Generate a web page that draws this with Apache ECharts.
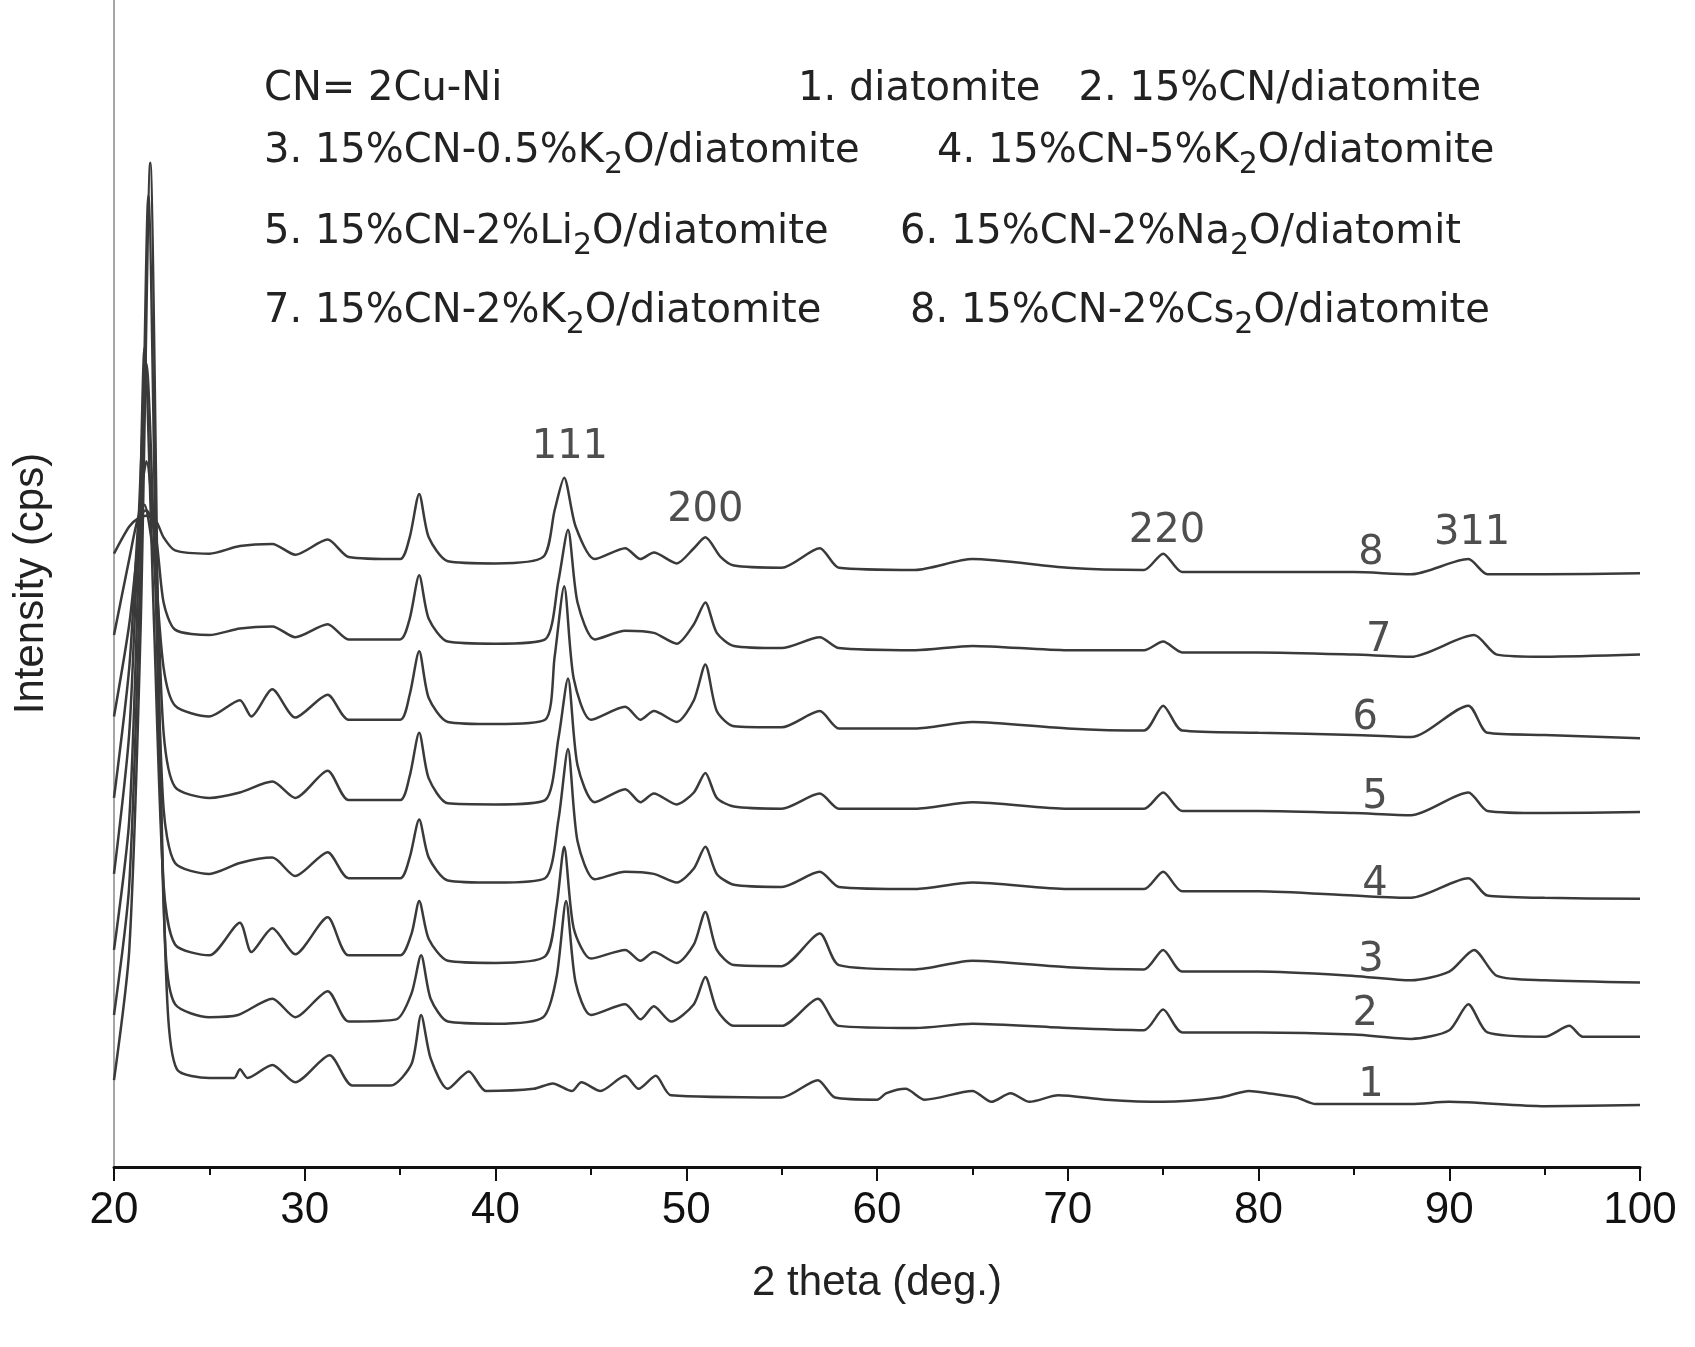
<!DOCTYPE html>
<html>
<head>
    <meta charset="UTF-8">
    <title>XRD</title>
    <script src="https://cdn.jsdelivr.net/npm/echarts@6/dist/echarts.min.js"></script>
</head>
<body style="margin:0;background:#fff">
<div id="main" style="width:1695px;height:1347px;"></div>
<script type="text/javascript">
    // 2 theta / intensity pairs (offset curves, arbitrary units)
    var s1 = [[20,80],[20.8,200],[21.4,500],[21.9,925],[22.4,400],[22.8,150],[23.3,90],[25,82],[26.3,82],[26.6,90],[27,82],[28.3,94],[29.5,78],[31.3,103],[32.5,75],[34.5,75],[35.6,95],[36.1,140],[36.6,100],[37.5,72],[38.6,88],[39.5,70],[42,72],[43,77],[44,70],[44.5,78],[45.5,70],[46.8,84],[47.5,72],[48.4,84],[49.2,66],[55,64],[56.9,80],[57.8,64],[60,62],[60.5,68],[61.5,72],[62.5,62],[65,70],[66,60],[67,68],[68,60],[69.5,66],[72,62],[75,60],[78,64],[79.5,70],[80.5,68],[82,64],[83,58],[88,58],[90,60],[95,56],[100,57]];
    var s2 = [[20,140],[20.8,260],[21.4,560],[21.8,895],[22.3,450],[22.7,200],[23.2,150],[25,138],[26.5,140],[28.3,155],[29.5,138],[31.2,162],[32.3,134],[34.8,136],[35.6,160],[36.1,195],[36.6,155],[37.5,134],[40,132],[42.5,138],[43.2,175],[43.7,245],[44.2,170],[45,140],[46.8,150],[47.6,136],[48.3,148],[49.2,134],[50.4,150],[51,175],[51.6,145],[52.5,130],[55,130],[56.9,155],[58,130],[62,128],[65,132],[70,128],[74,126],[75,145],[76,124],[80,124],[85,122],[88,118],[90,126],[91,150],[92,124],[95,120],[96.3,130],[97,120],[100,120]];
    var s3 = [[20,200],[20.8,320],[21.3,560],[21.6,755],[22.1,500],[22.6,260],[23.2,205],[25,195],[26.6,225],[27.2,198],[28.3,220],[29.5,196],[31.2,230],[32.3,195],[35,195],[35.6,215],[36,245],[36.5,210],[37.5,190],[40,188],[42.6,194],[43.2,240],[43.6,295],[44.1,220],[45,192],[46.8,200],[47.6,190],[48.3,198],[49.5,188],[50.4,205],[51,235],[51.6,200],[52.5,186],[55,185],[57,215],[58,186],[62,182],[65,190],[70,184],[74,182],[75,200],[76,180],[80,180],[85,176],[88,172],[90,180],[91.3,200],[92.5,176],[95,172],[100,170]];
    var s4 = [[20,270],[20.8,400],[21.3,600],[21.7,740],[22.2,520],[22.6,330],[23.2,280],[25,270],[26.6,280],[28.3,285],[29.5,268],[31.2,290],[32.3,266],[35,266],[35.5,285],[36,320],[36.5,285],[37.5,264],[40,262],[42.6,266],[43.3,320],[43.8,385],[44.3,300],[45.2,265],[46.8,272],[48.3,270],[49.5,262],[50.4,275],[51,295],[51.6,270],[52.5,260],[55,258],[57,272],[58,258],[62,256],[65,262],[70,256],[74,256],[75,272],[76,254],[80,254],[85,250],[88,248],[91,266],[92,250],[95,248],[100,247]];
    var s5 = [[20,340],[20.8,460],[21.3,600],[21.7,650],[22.2,560],[22.6,400],[23.2,350],[25,340],[26.6,345],[28.3,355],[29.5,340],[31.2,365],[32.3,338],[35,338],[35.5,360],[36,400],[36.5,358],[37.5,335],[40,334],[42.6,338],[43.3,395],[43.8,450],[44.3,370],[45.2,336],[46.8,348],[47.6,336],[48.3,344],[49.5,334],[50.4,345],[51,363],[51.6,340],[52.5,332],[55,330],[57,344],[58,330],[62,330],[65,336],[70,330],[74,330],[75,345],[76,328],[80,328],[85,326],[88,324],[91,345],[92,328],[95,326],[100,327]];
    var s6 = [[20,415],[20.8,500],[21.3,580],[21.6,610],[22.1,560],[22.6,460],[23.2,425],[25,415],[26.6,430],[27.2,415],[28.3,440],[29.5,414],[31.2,435],[32.3,412],[35,412],[35.5,435],[36,475],[36.5,432],[37.5,410],[40,408],[42.6,412],[43.1,470],[43.6,535],[44.1,450],[45,412],[46.8,424],[47.6,412],[48.3,420],[49.5,410],[50.4,430],[51,463],[51.6,420],[52.5,406],[55,405],[57,420],[58,404],[62,404],[65,410],[70,404],[74,402],[75,425],[76,402],[80,400],[85,398],[88,396],[91,425],[92,400],[95,398],[100,395]];
    var s7 = [[20,490],[20.8,560],[21.3,600],[21.7,605],[22.2,580],[22.6,520],[23.2,495],[25,490],[26.6,496],[28.3,498],[29.5,488],[31.2,500],[32.3,486],[35,486],[35.5,505],[36,545],[36.5,505],[37.5,484],[40,482],[42.6,486],[43.3,540],[43.8,587],[44.3,520],[45.2,486],[46.8,494],[48.3,492],[49.5,482],[50.4,500],[51,520],[51.6,492],[52.5,480],[55,478],[57,488],[58,478],[62,476],[65,480],[70,476],[74,476],[75,484],[76,474],[80,474],[85,472],[88,470],[91.3,490],[92.5,472],[95,470],[100,472]];
    var s8 = [[20,565],[20.8,590],[21.3,598],[21.7,600],[22.2,595],[22.6,580],[23.2,568],[25,565],[26.6,572],[28.3,574],[29.5,564],[31.2,578],[32.3,562],[35,560],[35.5,580],[36,620],[36.5,580],[37.5,558],[40,556],[42.5,562],[43.1,605],[43.6,635],[44.2,590],[45.2,560],[46.8,570],[47.6,560],[48.3,566],[49.5,556],[50.4,570],[51,580],[51.8,562],[52.5,554],[55,552],[57,570],[58,552],[62,550],[65,560],[70,552],[74,550],[75,565],[76,548],[80,548],[85,548],[88,546],[91,560],[92,546],[95,546],[100,547]];

    var curves = [s1, s2, s3, s4, s5, s6, s7, s8];
    var curveLabels = [[85.9,75,'1'],[85.6,140,'2'],[85.9,190,'3'],[86.1,260,'4'],[86.1,340,'5'],[85.6,413,'6'],[86.3,485,'7'],[85.9,565,'8']];
    var peakLabels = [[43.9,663,'111'],[51.0,605,'200'],[75.2,585,'220'],[91.2,583,'311']];
    var xTicks = [20, 30, 40, 50, 60, 70, 80, 90, 100];

    var myChart = echarts.init(document.getElementById('main'));

    var series = curves.map(function (d) {
        return {
            type: 'line', data: d, smooth: 0.25, showSymbol: false, silent: true,
            lineStyle: { color: '#3a3a3a', width: 2.5 }
        };
    });
    series.push({
        type: 'scatter', symbolSize: 0, silent: true,
        data: curveLabels.concat(peakLabels),
        label: {
            show: true, position: 'inside', fontSize: 40, color: '#222',
            fontFamily: 'DejaVu Sans',
            formatter: function (p) { return p.data[2]; }
        }
    });

    function txt(x, y, s) {
        return {
            type: 'text', left: x, top: y,
            style: {
                text: s, font: '40px "DejaVu Sans"', fill: '#222',
                rich: { s: { fontSize: 30, fontFamily: 'DejaVu Sans', fill: '#222', padding: [26, 0, 0, 0] } }
            }
        };
    }

    option = {
        backgroundColor: '#fff',
        animation: false,
        grid: { left: 114, right: 55, top: 0, bottom: 180 },
        xAxis: {
            type: 'value', min: 20, max: 100, interval: 10,
            axisLine: { show: true, lineStyle: { color: '#111', width: 3 } },
            axisTick: { show: true, length: 14, lineStyle: { color: '#111', width: 2 } },
            minorTick: { show: true, splitNumber: 2, length: 8, lineStyle: { color: '#111', width: 2 } },
            axisLabel: { fontSize: 44, color: '#111', margin: 22, fontFamily: 'Liberation Sans',
                formatter: function (v) { return xTicks.indexOf(v) >= 0 ? String(v) : ''; } },
            splitLine: { show: false },
            name: '2 theta (deg.)', nameLocation: 'middle', nameGap: 95,
            nameTextStyle: { fontSize: 42, color: '#222', fontFamily: 'Liberation Sans' }
        },
        yAxis: {
            type: 'value', min: 0, max: 1075,
            axisLine: { show: true, lineStyle: { color: '#888', width: 1.5 } },
            axisTick: { show: false }, axisLabel: { show: false }, splitLine: { show: false },
            name: 'Intensity (cps)', nameLocation: 'middle', nameGap: 62, nameRotate: 90,
            nameTextStyle: { fontSize: 42, color: '#222', fontFamily: 'Liberation Sans' }
        },
        graphic: [
            txt(264, 70, 'CN= 2Cu-Ni'),
            txt(798, 70, '1. diatomite   2. 15%CN/diatomite'),
            txt(264, 132, '3. 15%CN-0.5%K{s|2}O/diatomite'),
            txt(937, 132, '4. 15%CN-5%K{s|2}O/diatomite'),
            txt(264, 213, '5. 15%CN-2%Li{s|2}O/diatomite'),
            txt(900, 213, '6. 15%CN-2%Na{s|2}O/diatomit'),
            txt(264, 292, '7. 15%CN-2%K{s|2}O/diatomite'),
            txt(910, 292, '8. 15%CN-2%Cs{s|2}O/diatomite')
        ],
        series: series
    };
    myChart.setOption(option);
</script>
</body>
</html>
